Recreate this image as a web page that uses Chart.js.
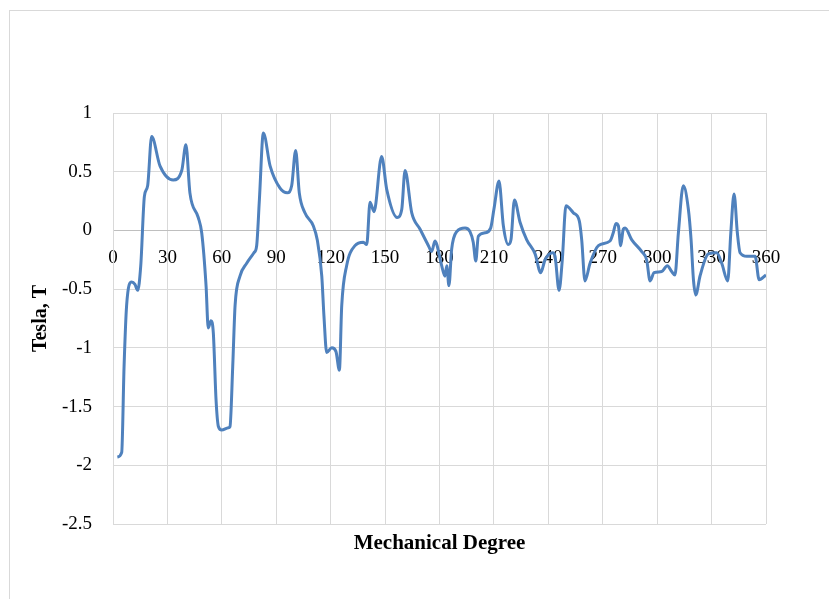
<!DOCTYPE html>
<html>
<head>
<meta charset="utf-8">
<script src="https://cdn.jsdelivr.net/npm/chart.js@4"></script>
<style>
  html, body { margin: 0; padding: 0; background: #fff; }
  .frame {
    position: absolute;
    left: 9px;
    top: 10px;
    width: 840px;
    height: 620px;
    border: 1px solid #d9d9d9;
  }
  #chartTesla { position: absolute; left: 0; top: 0; }
</style>
</head>
<body>
<div class="frame"></div>
<canvas id="chartTesla" width="829" height="599"></canvas>
<script>
// ======================================
// DATA (dibaca dari gambar referensi)
// ======================================

const derajat = [
  2.4, 4.8, 6.1, 7.5, 10.3, 12.1, 13.6, 15.3, 17.3, 19.1,
  21.3, 25.9, 33.2, 37.9, 40.2, 42.4, 47.0, 48.9, 51.3, 52.5,
  54.0, 55.3, 56.8, 58.1, 59.9, 63.6, 64.5, 66.0, 67.3, 70.0,
  73.7, 77.7, 79.2, 80.7, 82.9, 86.6, 92.1, 96.1, 98.5, 100.7,
  102.7, 105.8, 110.4, 112.6, 115.1, 116.3, 117.8, 120.6, 122.9, 124.8,
  126.1, 128.8, 133.4, 138.0, 139.9, 141.7, 143.9, 148.1, 150.9, 156.7,
  159.2, 161.0, 164.7, 169.3, 173.9, 175.7, 177.5, 178.5, 181.2, 183.0,
  184.0, 185.2, 186.7, 189.5, 194.1, 196.8, 198.6, 200.0, 201.4, 205.1,
  208.2, 210.0, 212.8, 215.2, 217.9, 219.4, 221.3, 224.4, 228.1, 232.7,
  235.8, 238.2, 242.4, 243.7, 245.9, 247.7, 249.7, 253.8, 257.1, 258.4,
  260.2, 263.0, 267.6, 274.0, 275.8, 277.3, 278.6, 279.9, 281.3, 282.3,
  286.0, 291.5, 294.2, 296.1, 298.3, 302.5, 305.6, 308.0, 309.8, 311.7,
  314.4, 317.2, 318.7, 320.0, 321.3, 323.6, 328.2, 332.8, 335.6, 338.9,
  340.6, 342.4, 344.2, 345.7, 349.4, 354.0, 356.2, 360.0,
];

const tesla = [
  -1.93, -1.89, -1.16, -0.64, -0.44, -0.46, -0.51, -0.30, 0.29, 0.38,
  0.80, 0.55, 0.43, 0.51, 0.73, 0.32, 0.11, -0.02, -0.47, -0.83,
  -0.77, -0.87, -1.44, -1.67, -1.70, -1.68, -1.67, -1.16, -0.64, -0.39,
  -0.28, -0.19, -0.13, 0.26, 0.83, 0.55, 0.36, 0.32, 0.38, 0.68,
  0.32, 0.15, 0.04, -0.08, -0.39, -0.73, -1.04, -1.00, -1.03, -1.19,
  -0.64, -0.30, -0.13, -0.10, -0.12, 0.24, 0.16, 0.63, 0.35, 0.11,
  0.18, 0.51, 0.15, 0.01, -0.13, -0.18, -0.09, -0.12, -0.30, -0.39,
  -0.30, -0.47, -0.16, -0.01, 0.02, -0.01, -0.10, -0.26, -0.05, -0.02,
  0.02, 0.18, 0.42, 0.04, -0.12, -0.08, 0.26, 0.07, -0.08, -0.20,
  -0.36, -0.25, -0.19, -0.22, -0.51, -0.25, 0.21, 0.15, 0.08, -0.08,
  -0.43, -0.28, -0.13, -0.09, -0.02, 0.06, 0.04, -0.13, 0.01, 0.02,
  -0.08, -0.18, -0.25, -0.43, -0.36, -0.35, -0.30, -0.35, -0.38, -0.02,
  0.38, 0.18, -0.08, -0.42, -0.55, -0.39, -0.20, -0.19, -0.28, -0.43,
  -0.02, 0.31, -0.02, -0.19, -0.22, -0.22, -0.42, -0.38,
];

const xTicks = [0, 30, 60, 90, 120, 150, 180, 210, 240, 270, 300, 330, 360];
const yTicks = [1, 0.5, 0, -0.5, -1, -1.5, -2, -2.5];

const judulX = "Mechanical Degree";
const judulY = "Tesla, T";

// ======================================
// GRAFIK
// ======================================

const FONT = "'Liberation Serif', 'DejaVu Serif', serif";
const GRID = "#d9d9d9";

function renderChart() {
  const titik = derajat.map((d, i) => ({ x: d, y: tesla[i] }));

  new Chart(document.getElementById("chartTesla"), {
    type: "line",
    data: {
      datasets: [
        {
          data: titik,
          borderColor: "#4f81bd",
          borderWidth: 3,
          pointRadius: 0,
          fill: false,
          cubicInterpolationMode: "monotone",
        },
      ],
    },
    options: {
      responsive: false,
      animation: false,
      events: [],
      layout: { padding: { left: 0, top: 113, right: 63, bottom: 0 } },
      plugins: {
        legend: { display: false },
        tooltip: { enabled: false },
      },
      scales: {
        x: {
          type: "linear",
          position: { y: 0 },
          min: 0,
          max: 360,
          afterBuildTicks: (scale) => {
            scale.ticks = xTicks.map((v) => ({ value: v }));
          },
          grid: { color: GRID, lineWidth: 1, drawTicks: false },
          border: { display: true, color: "#bfbfbf", width: 1 },
          ticks: {
            color: "#000",
            padding: 16,
            maxRotation: 0,
            callback: (v) => String(v),
            font: { family: FONT, size: 19 },
          },
        },
        x2: {
          type: "linear",
          position: "bottom",
          min: 0,
          max: 360,
          grid: { display: false },
          border: { display: false },
          ticks: { display: false },
          afterFit: (scale) => {
            scale.height = 75;
          },
          title: {
            display: true,
            text: judulX,
            color: "#000",
            padding: { top: 0, bottom: 43 },
            font: { family: FONT, size: 21, weight: "bold" },
          },
        },
        y: {
          type: "linear",
          min: -2.5,
          max: 1,
          afterBuildTicks: (scale) => {
            scale.ticks = yTicks.map((v) => ({ value: v }));
          },
          afterFit: (scale) => {
            scale.width = 113;
          },
          grid: { color: GRID, lineWidth: 1, drawTicks: false },
          border: { display: true, color: GRID, width: 1 },
          ticks: {
            color: "#000",
            padding: 21,
            callback: (v) => String(v),
            font: { family: FONT, size: 19 },
          },
          title: {
            display: true,
            text: judulY,
            color: "#000",
            padding: { top: 29, bottom: 0 },
            font: { family: FONT, size: 20, weight: "bold" },
          },
        },
      },
    },
  });
}

renderChart();
</script>
</body>
</html>
